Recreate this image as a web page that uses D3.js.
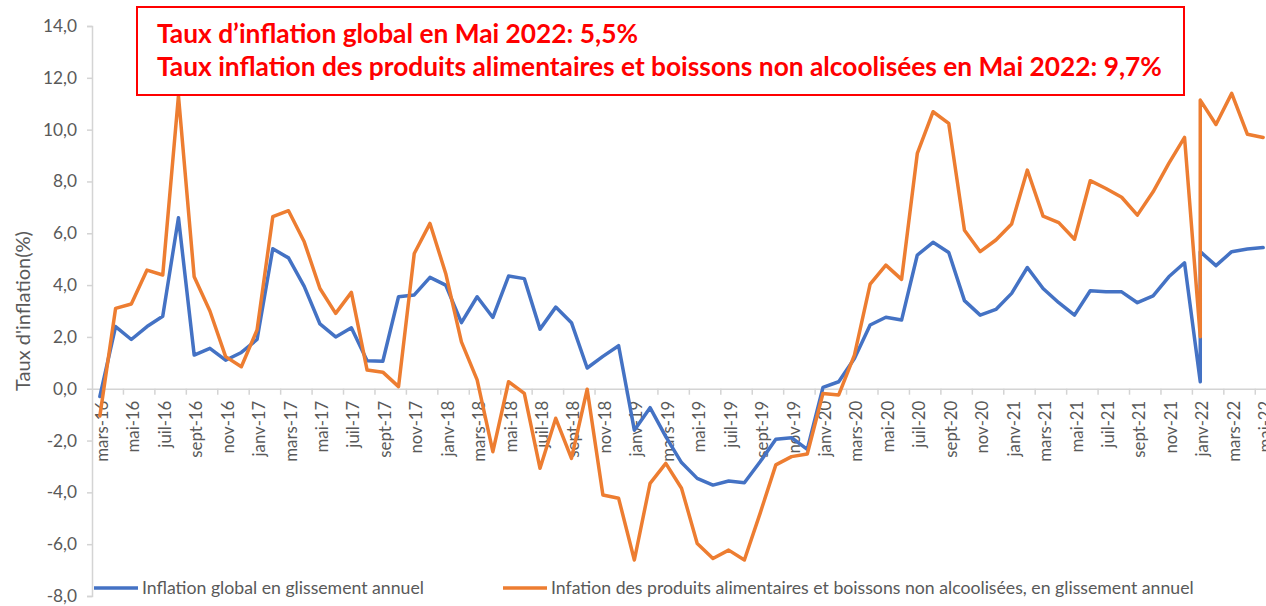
<!DOCTYPE html>
<html>
<head>
<meta charset="utf-8">
<script src="https://cdn.jsdelivr.net/npm/d3@7/dist/d3.min.js"></script>
<style>
  html, body { margin: 0; padding: 0; background: #ffffff; }
  svg { display: block; }
  text { font-family: Lato, "Open Sans", sans-serif; }
</style>
</head>
<body>
<svg id="chart" width="1266" height="606"></svg>
<script>
// ---------------- DATA ----------------
const categories = [
  "mars-16","avr-16","mai-16","juin-16","juil-16","août-16","sept-16","oct-16","nov-16","déc-16",
  "janv-17","févr-17","mars-17","avr-17","mai-17","juin-17","juil-17","août-17","sept-17","oct-17","nov-17","déc-17",
  "janv-18","févr-18","mars-18","avr-18","mai-18","juin-18","juil-18","août-18","sept-18","oct-18","nov-18","déc-18",
  "janv-19","févr-19","mars-19","avr-19","mai-19","juin-19","juil-19","août-19","sept-19","oct-19","nov-19","déc-19",
  "janv-20","févr-20","mars-20","avr-20","mai-20","juin-20","juil-20","août-20","sept-20","oct-20","nov-20","déc-20",
  "janv-21","févr-21","mars-21","avr-21","mai-21","juin-21","juil-21","août-21","sept-21","oct-21","nov-21","déc-21",
  "janv-22","févr-22","mars-22","avr-22","mai-22"
];

// Category of each plotted point (janv-22 carries two readings in the source)
const pointCategories = [
  "mars-16","avr-16","mai-16","juin-16","juil-16","août-16","sept-16","oct-16","nov-16","déc-16",
  "janv-17","févr-17","mars-17","avr-17","mai-17","juin-17","juil-17","août-17","sept-17","oct-17","nov-17","déc-17",
  "janv-18","févr-18","mars-18","avr-18","mai-18","juin-18","juil-18","août-18","sept-18","oct-18","nov-18","déc-18",
  "janv-19","févr-19","mars-19","avr-19","mai-19","juin-19","juil-19","août-19","sept-19","oct-19","nov-19","déc-19",
  "janv-20","févr-20","mars-20","avr-20","mai-20","juin-20","juil-20","août-20","sept-20","oct-20","nov-20","déc-20",
  "janv-21","févr-21","mars-21","avr-21","mai-21","juin-21","juil-21","août-21","sept-21","oct-21","nov-21","déc-21",
  "janv-22","janv-22","févr-22","mars-22","avr-22","mai-22"
];

const inflationGlobal = [
  -0.3, 2.4, 1.9, 2.4, 2.8, 6.6, 1.3, 1.56, 1.1, 1.4,
  1.9, 5.4, 5.05, 3.95, 2.5, 2.0, 2.35, 1.08, 1.06, 3.55, 3.62, 4.3,
  4.0, 2.55, 3.55, 2.75, 4.35, 4.25, 2.3, 3.15, 2.55, 0.8, 1.25, 1.66,
  -1.6, -0.73, -1.85, -2.85, -3.46, -3.72, -3.56, -3.63, -2.82, -1.95, -1.89, -2.34,
  0.05, 0.27, 1.17, 2.46, 2.76, 2.65, 5.16, 5.65, 5.26, 3.4, 2.84, 3.06,
  3.68, 4.68, 3.87, 3.32, 2.84, 3.78, 3.74, 3.74, 3.32, 3.58, 4.32, 4.86,
  0.27, 5.29, 4.75, 5.29, 5.39, 5.45
];

const inflationAlimentaire = [
  -1.05, 3.1, 3.27, 4.58, 4.39, 11.3, 4.32, 3.0, 1.24, 0.85,
  2.27, 6.64, 6.87, 5.67, 3.87, 2.91, 3.72, 0.72, 0.64, 0.08, 5.22, 6.38,
  4.45, 1.81, 0.34, -2.43, 0.27, -0.18, -3.07, -1.14, -2.69, -0.02, -4.10, -4.23,
  -6.61, -3.65, -2.88, -3.84, -5.97, -6.55, -6.23, -6.61, -4.81, -2.94, -2.62, -2.52,
  -0.18, -0.24, 1.3, 4.04, 4.77, 4.22, 9.08, 10.69, 10.24, 6.12, 5.29, 5.74,
  6.36, 8.44, 6.66, 6.41, 5.77, 8.03, 7.73, 7.39, 6.70, 7.60, 8.70, 9.70,
  2.01, 11.14, 10.20, 11.40, 9.82, 9.70
];

const yTicks = [-8, -6, -4, -2, 0, 2, 4, 6, 8, 10, 12, 14];
const seriesNames = [
  "Inflation global en glissement annuel",
  "Infation des produits alimentaires et boissons non alcoolisées, en glissement annuel"
];
const annotationLines = [
  "Taux d’inflation global en Mai 2022: 5,5%",
  "Taux inflation des produits alimentaires et boissons non alcoolisées en Mai 2022: 9,7%"
];
const yAxisTitle = "Taux d'inflation(%)";

// ---------------- CHART ----------------
const svg = d3.select("#chart");
const W = 1266, H = 606;
const plot = { left: 92, right: 1271, top: 26, bottom: 596 };
const textGray = "#595959";
const axisGray = "#d4d4d4";
const colBlue = "#4472C4";
const colOrange = "#ED7D31";

const x = d3.scaleBand().domain(categories).range([plot.left, plot.right]).padding(0);
const xc = c => x(c) + x.bandwidth() / 2;
const y = d3.scaleLinear().domain([-8, 14]).range([plot.bottom, plot.top]);

function fitSize(text, target, base, weight) {
  const t = svg.append("text").attr("font-size", base).attr("font-weight", weight || "normal").text(text);
  const len = t.node().getComputedTextLength();
  t.remove();
  return base * target / len;
}

// Y axis
const yFs = fitSize("14,0", 34, 15);
const yAxis = d3.axisLeft(y).tickValues(yTicks).tickSize(5).tickPadding(10)
  .tickFormat(d => d3.format(".1f")(d).replace(".", ",").replace("−", "-"));
const gy = svg.append("g").attr("transform", `translate(${plot.left},0)`).call(yAxis);
gy.select(".domain").attr("stroke", axisGray).attr("stroke-width", 1.5);
gy.selectAll(".tick line").attr("stroke", axisGray).attr("stroke-width", 1.5);
gy.selectAll(".tick text").attr("fill", textGray).attr("font-size", yFs)
  .attr("font-family", "Lato, 'Open Sans', sans-serif");

// X axis at y = 0
const xLabelCats = categories.filter((c, i) => i % 2 === 0);
const xFs = fitSize("mars-16", 61, 14);
const xAxis = d3.axisBottom(x).tickValues(xLabelCats).tickSize(0).tickPadding(0);
const gx = svg.append("g").attr("transform", `translate(0,${y(0)})`).call(xAxis);
gx.select(".domain").attr("stroke", axisGray).attr("stroke-width", 1.5);
gx.selectAll(".tick text")
  .attr("fill", textGray).attr("font-size", xFs)
  .attr("font-family", "Lato, 'Open Sans', sans-serif")
  .attr("text-anchor", "end")
  .attr("x", 0).attr("y", 0).attr("dy", 0)
  .attr("transform", "translate(8,12) rotate(-90)");
// tick marks at category boundaries (every 2 categories)
svg.append("g").selectAll("line")
  .data(xLabelCats.slice(1))
  .join("line")
  .attr("x1", d => x(d)).attr("x2", d => x(d))
  .attr("y1", y(0)).attr("y2", y(0) + 6)
  .attr("stroke", axisGray).attr("stroke-width", 1.5);

// Y axis title
const titleFs = fitSize(yAxisTitle, 160, 14);
svg.append("text")
  .attr("transform", `translate(30,${(plot.top + plot.bottom) / 2}) rotate(-90)`)
  .attr("text-anchor", "middle")
  .attr("fill", textGray).attr("font-size", titleFs)
  .text(yAxisTitle);

// Lines
const points = (vals) => vals.map((v, i) => ({ c: pointCategories[i], v }));
const line = d3.line().x(d => xc(d.c)).y(d => y(d.v));
svg.append("path").datum(points(inflationGlobal))
  .attr("d", line).attr("fill", "none").attr("stroke", colBlue)
  .attr("stroke-width", 3.5).attr("stroke-linejoin", "round").attr("stroke-linecap", "round");
svg.append("path").datum(points(inflationAlimentaire))
  .attr("d", line).attr("fill", "none").attr("stroke", colOrange)
  .attr("stroke-width", 3.5).attr("stroke-linejoin", "round").attr("stroke-linecap", "round");

// Legend
const legFs = fitSize(seriesNames[1], 643, 14);
const legendItems = [
  { name: seriesNames[0], color: colBlue, x0: 94 },
  { name: seriesNames[1], color: colOrange, x0: 503 }
];
const lg = svg.append("g").selectAll("g").data(legendItems).join("g")
  .attr("transform", d => `translate(${d.x0},588)`);
lg.append("line").attr("x1", 0).attr("x2", 44).attr("y1", 0).attr("y2", 0)
  .attr("stroke", d => d.color).attr("stroke-width", 3.5);
lg.append("text").attr("x", 48).attr("y", 0).attr("dy", "0.35em")
  .attr("fill", textGray).attr("font-size", legFs).text(d => d.name);

// Annotation box
const annFs = fitSize(annotationLines[1], 1005, 22, "bold");
svg.append("rect").attr("x", 137).attr("y", 7).attr("width", 1047).attr("height", 88)
  .attr("fill", "#ffffff").attr("stroke", "#ff0000").attr("stroke-width", 2);
svg.append("g").selectAll("text").data(annotationLines).join("text")
  .attr("x", 157).attr("y", (d, i) => 43 + i * 33)
  .attr("fill", "#ff0000").attr("font-weight", "bold").attr("font-size", annFs)
  .text(d => d);
</script>
</body>
</html>
